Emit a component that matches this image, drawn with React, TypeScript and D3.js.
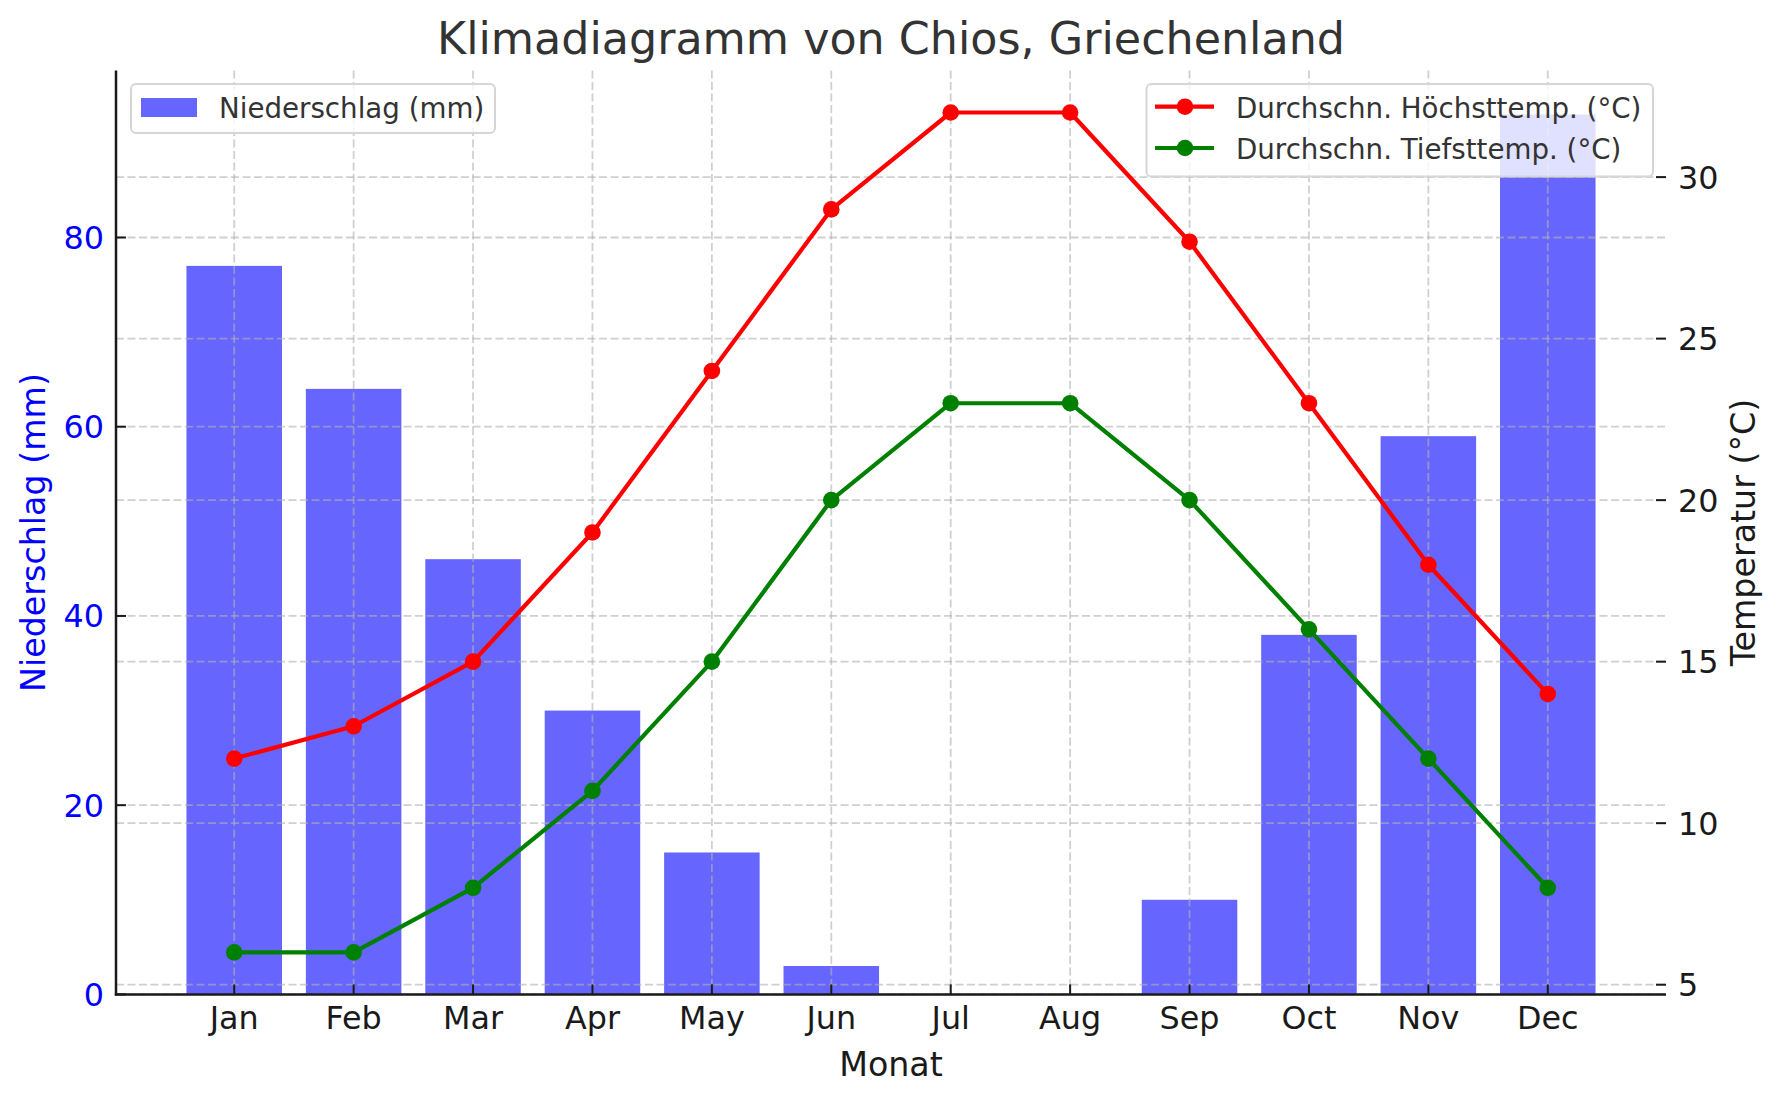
import React from 'react';
import * as d3 from 'd3';

const months = ['Jan', 'Feb', 'Mar', 'Apr', 'May', 'Jun', 'Jul', 'Aug', 'Sep', 'Oct', 'Nov', 'Dec'];
const precipitation = [77, 64, 46, 30, 15, 3, 0, 0, 10, 38, 59, 93];
const tempHigh = [12, 13, 15, 19, 24, 29, 32, 32, 28, 23, 18, 14];
const tempLow = [6, 6, 8, 11, 15, 20, 23, 23, 20, 16, 12, 8];
const leftTicks = [0, 20, 40, 60, 80];
const rightTicks = [5, 10, 15, 20, 25, 30];

const W = 1782;
const H = 1101;
const X0 = 116;
const X1 = 1666;
const Y0 = 70.5;
const Y1 = 994.4;
const FONT = 'DejaVu Sans, sans-serif';
const TICK_FS = 31.8;

export default function App() {
  const x = d3.scaleLinear().domain([-0.99, 11.99]).range([X0, X1]);
  const yL = d3.scaleLinear().domain([0, 97.65]).range([Y1, Y0]);
  const yR = d3.scaleLinear().domain([4.7, 33.3]).range([Y1, Y0]);
  const barW = x(0.8) - x(0);
  const idx = months.map((_, i) => i);

  const lineHigh = d3.line<number>().x((_, i) => x(i)).y((d) => yR(d));
  const lineLow = d3.line<number>().x((_, i) => x(i)).y((d) => yR(d));

  const grid = { stroke: '#b0b0b0', strokeOpacity: 0.6, strokeWidth: 1.8, strokeDasharray: '8,3.5' };

  return (
    <svg width={W} height={H} style={{ position: 'absolute', left: 0, top: 0, display: 'block', background: '#fff' }} fontFamily={FONT}>
      <rect x={0} y={0} width={W} height={H} fill="#fff" />
      {/* bars */}
      {precipitation.map((v, i) => (
        <rect key={'b' + i} x={x(i) - barW / 2} y={yL(v)} width={barW} height={Y1 - yL(v)} fill="#6666ff" />
      ))}
      {/* grid */}
      {idx.map((i) => (
        <line key={'gx' + i} x1={x(i)} x2={x(i)} y1={Y0} y2={Y1} {...grid} />
      ))}
      {leftTicks.map((t) => (
        <line key={'gl' + t} x1={X0} x2={X1} y1={yL(t)} y2={yL(t)} {...grid} />
      ))}
      {rightTicks.map((t) => (
        <line key={'gr' + t} x1={X0} x2={X1} y1={yR(t)} y2={yR(t)} {...grid} />
      ))}
      {/* lines */}
      <path d={lineHigh(tempHigh) || ''} fill="none" stroke="#ff0000" strokeWidth={4.2} strokeLinejoin="round" />
      {tempHigh.map((v, i) => (
        <circle key={'h' + i} cx={x(i)} cy={yR(v)} r={8.3} fill="#ff0000" />
      ))}
      <path d={lineLow(tempLow) || ''} fill="none" stroke="#008000" strokeWidth={4.2} strokeLinejoin="round" />
      {tempLow.map((v, i) => (
        <circle key={'l' + i} cx={x(i)} cy={yR(v)} r={8.3} fill="#008000" />
      ))}
      {/* spines */}
      <line x1={X0} x2={X0} y1={Y0} y2={Y1 + 1.2} stroke="#1a1a1a" strokeWidth={2.5} />
      <line x1={X0 - 1.2} x2={X1} y1={Y1} y2={Y1} stroke="#1a1a1a" strokeWidth={2.5} />
      {/* bottom ticks */}
      {idx.map((i) => (
        <g key={'tx' + i}>
          <line x1={x(i)} x2={x(i)} y1={Y1} y2={Y1 - 10} stroke="#1a1a1a" strokeWidth={2} />
          <text x={x(i)} y={1029} textAnchor="middle" fontSize={TICK_FS} fill="#1a1a1a">{months[i]}</text>
        </g>
      ))}
      {/* left ticks */}
      {leftTicks.map((t) => (
        <g key={'tl' + t}>
          <line x1={X0} x2={X0 + 10} y1={yL(t)} y2={yL(t)} stroke="#1a1a1a" strokeWidth={2} />
          <text x={104} y={yL(t)} dy="0.36em" textAnchor="end" fontSize={TICK_FS} fill="#0000ff">{t}</text>
        </g>
      ))}
      {/* right ticks */}
      {rightTicks.map((t) => (
        <g key={'tr' + t}>
          <line x1={X1} x2={X1 - 10} y1={yR(t)} y2={yR(t)} stroke="#1a1a1a" strokeWidth={2} />
          <text x={1678} y={yR(t)} dy="0.36em" textAnchor="start" fontSize={TICK_FS} fill="#1a1a1a">{t}</text>
        </g>
      ))}
      {/* labels */}
      <text x={(X0 + X1) / 2} y={54} textAnchor="middle" fontSize={44.4} fill="#333333">Klimadiagramm von Chios, Griechenland</text>
      <text x={(X0 + X1) / 2} y={1076} textAnchor="middle" fontSize={33.3} fill="#1a1a1a">Monat</text>
      <text transform={`translate(45, ${(Y0 + Y1) / 2}) rotate(-90)`} textAnchor="middle" fontSize={33.3} fill="#0000ff">Niederschlag (mm)</text>
      <text transform={`translate(1755, ${(Y0 + Y1) / 2}) rotate(-90)`} textAnchor="middle" fontSize={33.3} fill="#1a1a1a">Temperatur (°C)</text>
      {/* legend 1 */}
      <rect x={131} y={84} width={364} height={49} rx={5} fill="#ffffff" fillOpacity={0.8} stroke="#d6d6d6" strokeWidth={2} />
      <rect x={141} y={98} width={56} height={19} fill="#6666ff" />
      <text x={219} y={108.5} dy="0.36em" fontSize={27.7} fill="#333333">Niederschlag (mm)</text>
      {/* legend 2 */}
      <rect x={1146.5} y={84} width={506.5} height={92.5} rx={5} fill="#ffffff" fillOpacity={0.8} stroke="#d6d6d6" strokeWidth={2} />
      <line x1={1155} x2={1214} y1={106.7} y2={106.7} stroke="#ff0000" strokeWidth={4.2} />
      <circle cx={1185} cy={106.7} r={8.3} fill="#ff0000" />
      <text x={1236} y={107.7} dy="0.36em" fontSize={27.7} fill="#333333">Durchschn. Höchsttemp. (°C)</text>
      <line x1={1155} x2={1214} y1={148} y2={148} stroke="#008000" strokeWidth={4.2} />
      <circle cx={1185} cy={148} r={8.3} fill="#008000" />
      <text x={1236} y={149} dy="0.36em" fontSize={27.7} fill="#333333">Durchschn. Tiefsttemp. (°C)</text>
    </svg>
  );
}
